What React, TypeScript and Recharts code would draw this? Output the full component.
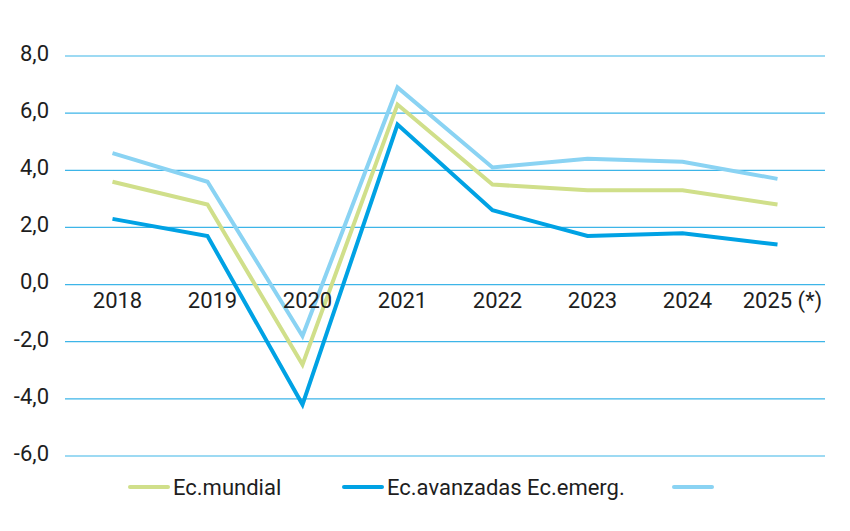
import { LineChart, Line, CartesianGrid, XAxis, YAxis } from "recharts";

const years = ["2018", "2019", "2020", "2021", "2022", "2023", "2024", "2025 (*)"];
const mundial = [3.6, 2.8, -2.8, 6.3, 3.5, 3.3, 3.3, 2.8];
const avanzadas = [2.3, 1.7, -4.2, 5.6, 2.6, 1.7, 1.8, 1.4];
const emergentes = [4.6, 3.6, -1.8, 6.9, 4.1, 4.4, 4.3, 3.7];
const yTicks = [-6, -4, -2, 0, 2, 4, 6, 8];

const W = 850;
const H = 531;
const M = { top: 56, right: 25, bottom: 45, left: 0 };
const X_AXIS_H = 30;
const Y_AXIS_W = 65;
const PLOT_TOP = M.top;
const PLOT_H = H - M.top - M.bottom - X_AXIS_H;
const PLOT_W = W - M.left - M.right - Y_AXIS_W;
const HALF_BAND = PLOT_W / years.length / 2;
const Y_MIN = -6;
const Y_MAX = 8;
const ZERO_Y = PLOT_TOP + (PLOT_H * (Y_MAX - 0)) / (Y_MAX - Y_MIN);

const GREEN = "#d0df8a";
const BLUE = "#00a2e4";
const LIGHT = "#8ad3f3";
const TEXT = "#1e1e1e";
const FONT = "Roboto, 'Noto Sans', sans-serif";
const FS = 22;

const data = years.map((y, i) => ({
  year: y,
  mundial: mundial[i],
  avanzadas: avanzadas[i],
  emergentes: emergentes[i],
}));

const fmt = (v: number) => v.toFixed(1).replace(".", ",");

const YTick = ({ x, y, payload }: any) => (
  <text x={x} y={y - 3} dy="0.355em" textAnchor="end" fill={TEXT} fontSize={FS} fontFamily={FONT}>
    {fmt(payload.value)}
  </text>
);

const XTick = ({ x, payload }: any) => (
  <text x={x + 5} y={ZERO_Y + 23} textAnchor="middle" fill={TEXT} fontSize={FS} fontFamily={FONT}>
    {payload.value}
  </text>
);

const legendItems = [
  { label: "Ec.mundial", color: GREEN, left: 128 },
  { label: "Ec.avanzadas Ec.emerg.", color: BLUE, left: 342 },
  { label: "", color: LIGHT, left: 672 },
];

const App = () => {
  return (
    <div style={{ position: "absolute", left: 0, top: 0, width: W, height: H, background: "#fff" }}>
      <LineChart width={W} height={H} data={data} margin={M}>
        <CartesianGrid vertical={false} stroke="#3db5e8" strokeWidth={1.2} />
        <XAxis
          dataKey="year"
          height={X_AXIS_H}
          axisLine={false}
          tickLine={false}
          interval={0}
          padding={{ left: HALF_BAND, right: HALF_BAND }}
          tick={<XTick />}
        />
        <YAxis
          width={Y_AXIS_W}
          domain={[Y_MIN, Y_MAX]}
          ticks={yTicks}
          interval={0}
          axisLine={false}
          tickLine={false}
          tickMargin={10}
          tick={<YTick />}
        />
        <Line dataKey="emergentes" stroke={LIGHT} strokeWidth={4} dot={false} isAnimationActive={false} />
        <Line dataKey="mundial" stroke={GREEN} strokeWidth={4} dot={false} isAnimationActive={false} />
        <Line dataKey="avanzadas" stroke={BLUE} strokeWidth={4} dot={false} isAnimationActive={false} />
      </LineChart>
      {legendItems.map((it) => (
        <div
          key={it.color}
          style={{
            position: "absolute",
            left: it.left,
            top: 473,
            height: 28,
            display: "flex",
            alignItems: "center",
            fontFamily: FONT,
            fontSize: FS,
            color: TEXT,
            whiteSpace: "nowrap",
          }}
        >
          <span
            style={{ display: "inline-block", width: 42, height: 4, borderRadius: 2, background: it.color, marginRight: 3 }}
          />
          {it.label}
        </div>
      ))}
    </div>
  );
};

export default App;
